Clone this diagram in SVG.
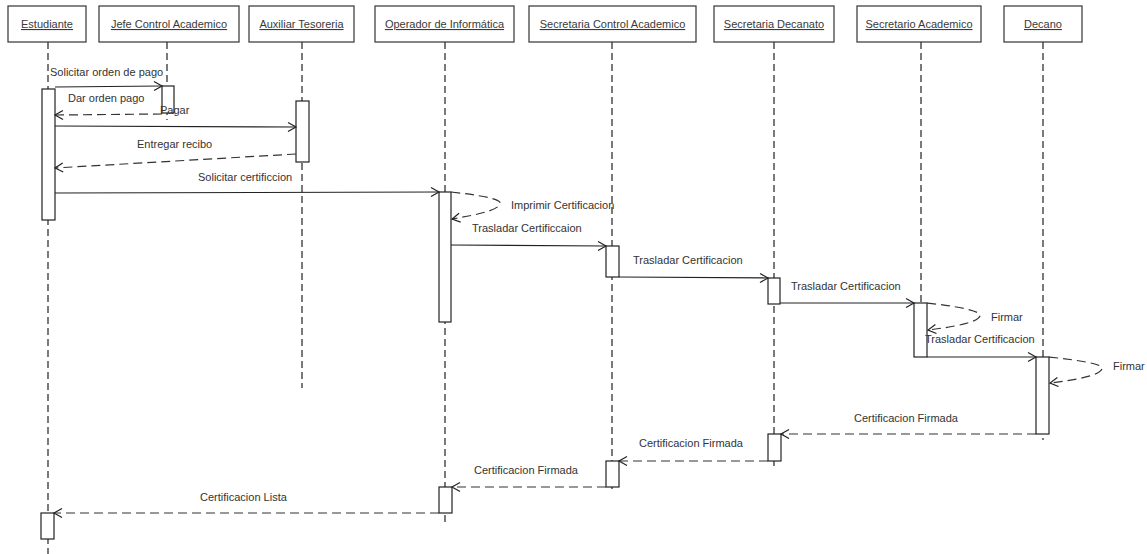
<svg xmlns="http://www.w3.org/2000/svg" width="1147" height="554" viewBox="0 0 1147 554">
  <style>
    .head { fill: #ffffff; stroke: #333333; stroke-width: 1.2; }
    .headtxt { font-family: "Liberation Sans", Arial, sans-serif; font-size: 11px; fill: #3a3a3a; text-anchor: middle; text-decoration: underline; }
    .life { stroke: #222222; stroke-width: 1.2; stroke-dasharray: 7 4; fill: none; }
    .act { fill: #ffffff; stroke: #222222; stroke-width: 1.2; }
    .msg { stroke: #222222; stroke-width: 1.2; fill: none; marker-end: url(#open); }
    .ret { stroke: #333333; stroke-width: 1.2; fill: none; stroke-dasharray: 9 5; marker-end: url(#open); }
    .lbl { font-family: "Liberation Sans", Arial, sans-serif; font-size: 11px; fill: #333333; }
  </style>
  <defs>
    <marker id="open" markerUnits="userSpaceOnUse" markerWidth="10" markerHeight="10" refX="8" refY="4.5" orient="auto" overflow="visible">
      <path d="M0,0 L8,4.5 L0,9" fill="none" stroke="#222222" stroke-width="1.2" stroke-dasharray="none"/>
    </marker>
  </defs>

  <rect width="1147" height="554" fill="#ffffff"/>

  <!-- lifelines -->
  <g id="lifelines">
    <line class="life" x1="48" y1="42" x2="48" y2="554"/>
    <line class="life" x1="167" y1="42" x2="167" y2="120"/>
    <line class="life" x1="302" y1="42" x2="302" y2="388"/>
    <line class="life" x1="445" y1="42" x2="445" y2="523"/>
    <line class="life" x1="612" y1="42" x2="612" y2="493"/>
    <line class="life" x1="774" y1="42" x2="774" y2="466"/>
    <line class="life" x1="921" y1="42" x2="921" y2="361"/>
    <line class="life" x1="1043" y1="42" x2="1043" y2="440"/>
  </g>

  <!-- participants -->
  <g id="estudiante">
    <rect class="head" x="8" y="6" width="78" height="36"/>
    <text class="headtxt" x="47" y="28">Estudiante</text>
  </g>
  <g id="jefe-control-academico">
    <rect class="head" x="99" y="6" width="140" height="36"/>
    <text class="headtxt" x="169" y="28">Jefe Control Academico</text>
  </g>
  <g id="auxiliar-tesoreria">
    <rect class="head" x="249" y="6" width="105" height="36"/>
    <text class="headtxt" x="301.5" y="28">Auxiliar Tesoreria</text>
  </g>
  <g id="operador-informatica">
    <rect class="head" x="375" y="6" width="139" height="36"/>
    <text class="headtxt" x="444.5" y="28">Operador de Informática</text>
  </g>
  <g id="secretaria-control-academico">
    <rect class="head" x="529" y="6" width="167" height="36"/>
    <text class="headtxt" x="612.5" y="28">Secretaria Control Academico</text>
  </g>
  <g id="secretaria-decanato">
    <rect class="head" x="714" y="6" width="120" height="36"/>
    <text class="headtxt" x="774" y="28">Secretaria Decanato</text>
  </g>
  <g id="secretario-academico">
    <rect class="head" x="857" y="6" width="124" height="36"/>
    <text class="headtxt" x="919" y="28">Secretario Academico</text>
  </g>
  <g id="decano">
    <rect class="head" x="1004" y="6" width="78" height="36"/>
    <text class="headtxt" x="1043" y="28">Decano</text>
  </g>

  <!-- activation bars -->
  <g id="activations">
    <rect class="act" x="42" y="89" width="13" height="131"/>
    <rect class="act" x="162" y="86" width="12" height="27"/>
    <rect class="act" x="296" y="101" width="13" height="61"/>
    <rect class="act" x="439" y="192" width="12" height="130"/>
    <rect class="act" x="606" y="246" width="13" height="31"/>
    <rect class="act" x="768" y="278" width="12" height="26"/>
    <rect class="act" x="914" y="303" width="13" height="54"/>
    <rect class="act" x="1036" y="357" width="13" height="77"/>
    <rect class="act" x="768" y="434" width="13" height="27"/>
    <rect class="act" x="606" y="461" width="13" height="26"/>
    <rect class="act" x="439" y="487" width="13" height="26"/>
    <rect class="act" x="41" y="513" width="13" height="26"/>
  </g>

  <!-- messages -->
  <g id="connectors">
    <line class="msg" x1="55" y1="87" x2="162" y2="86"/>
    <line class="ret" x1="162" y1="114" x2="55" y2="115"/>
    <line class="msg" x1="55" y1="126" x2="296" y2="127"/>
    <line class="ret" x1="296" y1="154" x2="55" y2="168"/>
    <line class="msg" x1="55" y1="193" x2="439" y2="192"/>
    <path class="ret" d="M451,192 C478,195 503,199 500,204 C497,211 475,215 452,219"/>
    <line class="msg" x1="451" y1="245" x2="606" y2="246"/>
    <line class="msg" x1="619" y1="277" x2="768" y2="278"/>
    <line class="msg" x1="780" y1="303" x2="914" y2="303"/>
    <path class="ret" d="M927,303 C955,306 983,311 980,316 C977,323 952,327 928,330"/>
    <line class="msg" x1="927" y1="357" x2="1036" y2="357"/>
    <path class="ret" d="M1049,357 C1077,360 1105,364 1102,369 C1099,376 1074,380 1050,383"/>
    <line class="ret" x1="1036" y1="434" x2="781" y2="434"/>
    <line class="ret" x1="768" y1="461" x2="619" y2="461"/>
    <line class="ret" x1="606" y1="487" x2="452" y2="487"/>
    <line class="ret" x1="439" y1="513" x2="54" y2="513"/>
  </g>

  <!-- message labels -->
  <g id="labels">
    <text class="lbl" x="50" y="76">Solicitar orden de pago</text>
    <text class="lbl" x="68" y="102">Dar orden pago</text>
    <text class="lbl" x="160" y="114">Pagar</text>
    <text class="lbl" x="137" y="148">Entregar recibo</text>
    <text class="lbl" x="198" y="181">Solicitar certificcion</text>
    <text class="lbl" x="511" y="209">Imprimir Certificacion</text>
    <text class="lbl" x="472" y="232">Trasladar Certificcaion</text>
    <text class="lbl" x="633" y="264">Trasladar Certificacion</text>
    <text class="lbl" x="791" y="290">Trasladar Certificacion</text>
    <text class="lbl" x="991" y="321">Firmar</text>
    <text class="lbl" x="925" y="343">Trasladar Certificacion</text>
    <text class="lbl" x="1113" y="370">Firmar</text>
    <text class="lbl" x="854" y="422">Certificacion Firmada</text>
    <text class="lbl" x="639" y="447">Certificacion Firmada</text>
    <text class="lbl" x="474" y="474">Certificacion Firmada</text>
    <text class="lbl" x="200" y="501">Certificacion Lista</text>
  </g>
</svg>
